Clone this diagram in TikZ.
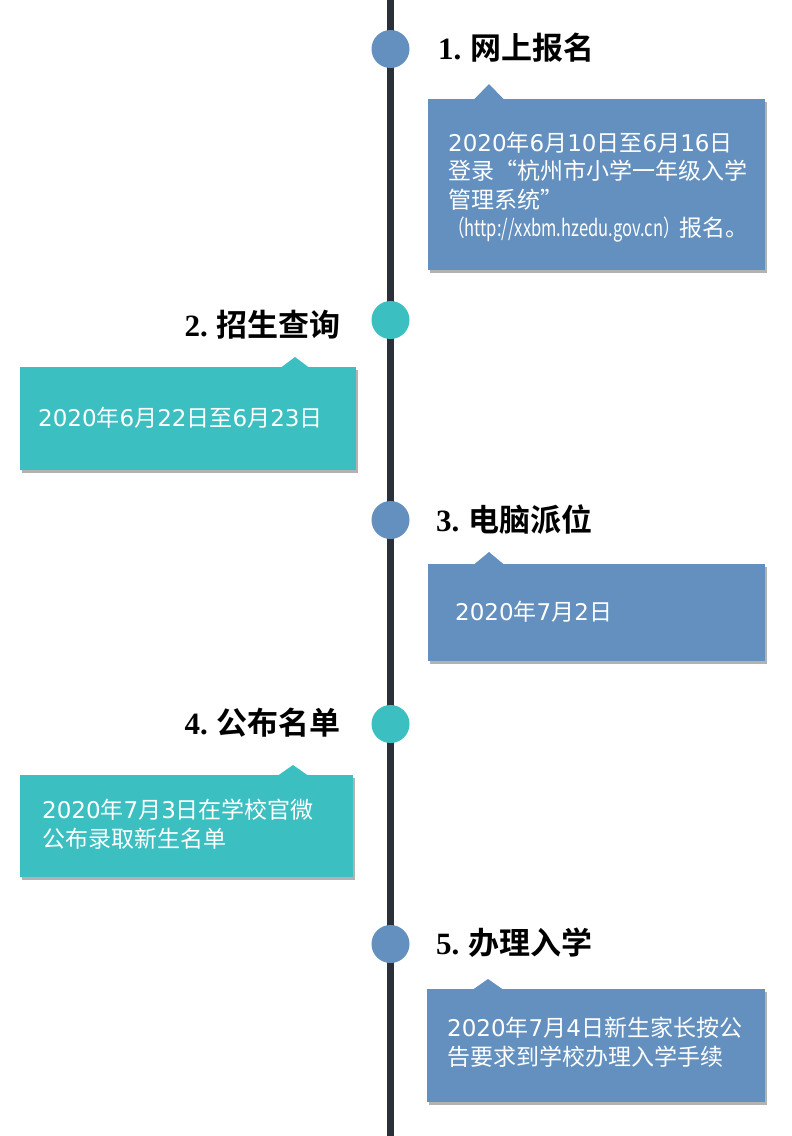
\documentclass[tikz,border=0pt]{standalone}
\usepackage{fontspec}
\setmainfont{Noto Sans CJK SC}
\newfontfamily\cjkbold{Noto Sans CJK SC}[BoldFont={Noto Sans CJK SC Bold}]
\newfontfamily\tserif{Liberation Serif}
\newfontfamily\digfont{DejaVu Sans}
\usetikzlibrary{shadows}
\definecolor{cblue}{RGB}{99,144,190}
\definecolor{cteal}{RGB}{60,191,193}
\definecolor{cline}{RGB}{43,48,56}
\newcommand{\ttl}[2]{{\tserif\bfseries #1}\hspace{9pt}{\cjkbold\bfseries #2}}
\newcommand{\dg}[1]{{\digfont #1}}
\tikzset{
  dot/.style={circle, minimum size=38pt, inner sep=0pt},
  callout/.style={anchor=north west, inner sep=0pt, draw=none,
    drop shadow={shadow xshift=2pt, shadow yshift=-3pt, opacity=0.3, fill=black}},
  body/.style={anchor=west, inner sep=0pt, text=white, align=left,
    font=\fontsize{23}{28.5}\selectfont},
  title/.style={inner sep=0pt, text=black, font=\fontsize{31}{33}\selectfont},
  timeline/.style={draw=cline, line width=7pt}
}
\begin{document}
\begin{tikzpicture}[x=1pt, y=-1pt]
\useasboundingbox (0,0) rectangle (792,1136);
\fill[white] (0,0) rectangle (792,1136);
\coordinate (top) at (390.5,0);
\coordinate (bot) at (390.5,1136);
\draw[timeline] (top) -- (bot);

% dots
\node[dot, fill=cblue] (d1) at (390.5,49) {};
\node[dot, fill=cteal] (d2) at (390.5,320) {};
\node[dot, fill=cblue] (d3) at (390.5,520) {};
\node[dot, fill=cteal] (d4) at (390.5,724) {};
\node[dot, fill=cblue] (d5) at (390.5,944) {};

% titles
\node[title, anchor=west] (h1) at (438,48) {\ttl{1.}{网上报名}};
\node[title, anchor=east] (h2) at (341,325) {\ttl{2.}{招生查询}};
\node[title, anchor=west] (h3) at (436,520) {\ttl{3.}{电脑派位}};
\node[title, anchor=east] (h4) at (341,723) {\ttl{4.}{公布名单}};
\node[title, anchor=west] (h5) at (436,943) {\ttl{5.}{办理入学}};

% callout boxes
\node[callout, fill=cblue, minimum width=337pt, minimum height=171pt] (b1) at (428,99) {};
\fill[cblue] (474,99.5) -- (489,84) -- (504,99.5) -- cycle;
\node[body] (t1) at (448,187) {\dg{2020}年\dg{6}月\dg{10}日至\dg{6}月\dg{16}日\\登录“杭州市小学一年级入学\\管理系统”\\\scalebox{0.72}[1]{（http://xxbm.hzedu.gov.cn）}报名。};

\node[callout, fill=cteal, minimum width=336pt, minimum height=103pt] (b2) at (20,367) {};
\fill[cteal] (281,367.5) -- (295,357) -- (309,367.5) -- cycle;
\node[body] (t2) at (38,418) {\dg{2020}年\dg{6}月\dg{22}日至\dg{6}月\dg{23}日};

\node[callout, fill=cblue, minimum width=337pt, minimum height=97pt] (b3) at (428,564) {};
\fill[cblue] (474,564.5) -- (489,552) -- (504,564.5) -- cycle;
\node[body] (t3) at (455,612) {\dg{2020}年\dg{7}月\dg{2}日};

\node[callout, fill=cteal, minimum width=333pt, minimum height=102pt] (b4) at (20,775) {};
\fill[cteal] (278,775.5) -- (293,765) -- (308,775.5) -- cycle;
\node[body] (t4) at (42,824) {\dg{2020}年\dg{7}月\dg{3}日在学校官微\\公布录取新生名单};

\node[callout, fill=cblue, minimum width=338pt, minimum height=113pt] (b5) at (427,989) {};
\fill[cblue] (473,989.5) -- (488,979) -- (503,989.5) -- cycle;
\node[body] (t5) at (447,1042.5) {\dg{2020}年\dg{7}月\dg{4}日新生家长按公\\告要求到学校办理入学手续};
\end{tikzpicture}
\end{document}
